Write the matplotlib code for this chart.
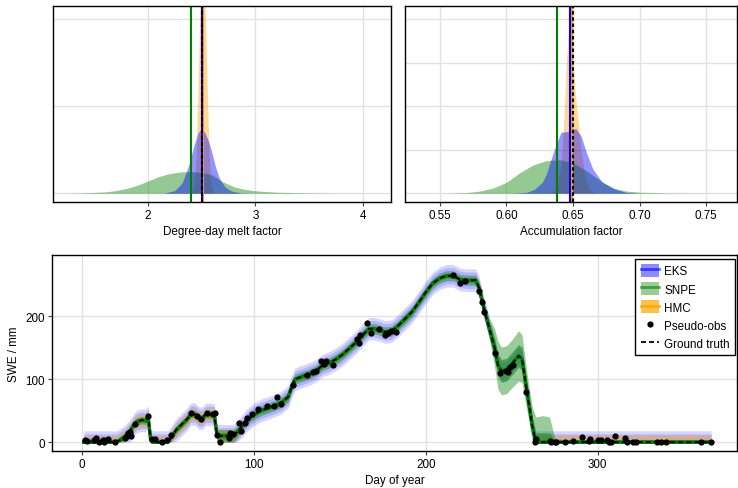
import numpy as np
import matplotlib
matplotlib.use("Agg")
import matplotlib.pyplot as plt
from matplotlib.patches import Patch
from matplotlib.lines import Line2D

plt.rcParams['font.family'] = ['Liberation Sans', 'DejaVu Sans']
plt.rcParams['font.size'] = 8.4
plt.rcParams['lines.scale_dashes'] = False

BLUE = (0.0, 0.0, 1.0)
GREEN = (0.0, 0.5, 0.0)
ORANGE = (1.0, 0.647, 0.0)
GRID = '#e2e2e2'
FS = 8.4

# --- posterior densities, degree-day melt factor
ddf_x_snpe = [1.20, 1.40, 1.60, 1.70, 1.80, 1.90, 2.00, 2.10, 2.20, 2.30, 2.40,
              2.50, 2.60, 2.70, 2.80, 2.90, 3.00, 3.20, 3.50, 3.80, 4.10]
ddf_y_snpe = [0.0, 0.004, 0.015, 0.03, 0.055, 0.09, 0.14, 0.19, 0.225, 0.245, 0.25,
              0.24, 0.21, 0.13, 0.075, 0.045, 0.028, 0.012, 0.004, 0.001, 0.0]
ddf_x_eks = [2.15, 2.25, 2.32, 2.38, 2.43, 2.47, 2.50, 2.53, 2.57, 2.60, 2.63,
             2.67, 2.72, 2.78, 2.88]
ddf_y_eks = [0.0, 0.03, 0.12, 0.32, 0.55, 0.70, 0.74, 0.70, 0.58, 0.45, 0.30,
             0.16, 0.07, 0.025, 0.0]
ddf_x_hmc = [2.40, 2.43, 2.45, 2.47, 2.49, 2.51, 2.53, 2.55, 2.57, 2.59, 2.62]
ddf_y_hmc = [0.0, 0.08, 0.45, 1.35, 2.35, 2.70, 2.35, 1.35, 0.45, 0.08, 0.0]
ddf_mean = {'SNPE': 2.40, 'HMC': 2.51, 'EKS': 2.50}
ddf_true = 2.50

# --- posterior densities, accumulation factor
acc_x_snpe = [0.555, 0.570, 0.580, 0.590, 0.600, 0.610, 0.620, 0.630, 0.640, 0.650,
              0.660, 0.670, 0.680, 0.690, 0.700, 0.720, 0.760]
acc_y_snpe = [0.0, 0.015, 0.05, 0.12, 0.25, 0.47, 0.65, 0.75, 0.77, 0.70,
              0.52, 0.30, 0.12, 0.05, 0.025, 0.008, 0.0]
acc_x_eks = [0.605, 0.615, 0.621, 0.627, 0.630, 0.636, 0.641, 0.646, 0.652, 0.656,
             0.660, 0.665, 0.672, 0.682, 0.690, 0.700]
acc_y_eks = [0.0, 0.02, 0.09, 0.25, 0.44, 1.01, 1.40, 1.42, 1.49, 1.32,
             0.94, 0.55, 0.25, 0.09, 0.02, 0.0]
acc_x_hmc = [0.632, 0.637, 0.641, 0.643, 0.645, 0.6465, 0.648, 0.650, 0.652, 0.654,
             0.656, 0.659, 0.662, 0.666]
acc_y_hmc = [0.0, 0.1, 0.6, 1.6, 3.0, 3.66, 3.45, 2.9, 2.2, 1.6,
             1.0, 0.4, 0.1, 0.0]
acc_mean = {'SNPE': 0.638, 'HMC': 0.649, 'EKS': 0.648}
acc_true = 0.650

# --- SWE time series
days = [1, 20, 22, 25, 28, 30, 32, 35, 37, 38.5,
        40, 41, 50, 52, 55, 58, 61, 63.5, 66, 68,
        70, 72, 75, 77, 78.5, 80, 88, 90, 93, 96,
        100, 104, 108, 112, 116, 120, 122, 124, 128, 132,
        136, 140, 144, 148, 152, 156, 160, 164, 167, 170,
        173, 176, 180, 184, 188, 192, 196, 200, 204, 208,
        212, 216, 220, 224, 229, 231, 234, 237, 240, 242,
        244, 247, 250, 254, 256, 258, 260, 262, 264, 268,
        272, 275, 280, 366]
swe_true = [0, 0, 3, 9, 18, 27, 33, 35, 34, 40,
            3, 0, 0, 8, 20, 28, 36, 45, 44, 38,
            38, 44, 44, 43, 12, 10, 10, 15, 25, 35,
            44, 50, 54, 58, 63, 72, 88, 100, 104, 108,
            113, 122, 126, 132, 140, 150, 160, 172, 180, 180,
            178, 175, 176, 185, 196, 207, 222, 238, 252, 260,
            264, 264, 258, 257, 257, 245, 210, 180, 150, 122,
            113, 115, 124, 137, 132, 95, 60, 25, 0, 0,
            0, 0, 0, 0]
# half-widths of the credible bands (outer / inner)
eks_outer, eks_inner = 18, 13
snpe_outer = [5, 5, 6, 6, 6, 6, 6, 6, 6, 6,
              6, 5, 5, 6, 6, 6, 6, 6, 6, 6,
              6, 6, 6, 6, 8, 10, 10, 9, 8, 8,
              8, 8, 8, 8, 8, 8, 8, 8, 8, 8,
              8, 8, 8, 8, 8, 8, 8, 8, 8, 8,
              8, 8, 8, 8, 8, 8, 8, 8, 8, 8,
              8, 8, 8, 8, 8, 10, 12, 16, 30, 38,
              38, 38, 38, 40, 38, 32, 28, 30, 40, 42,
              40, 6, 4, 4]
snpe_inner = [2.5, 2.5, 3, 3, 3, 3, 3, 3, 3, 3,
              3, 2.5, 2.5, 3, 3, 3, 3, 3, 3, 3,
              3, 3, 3, 3, 4, 5, 5, 4.5, 4, 4,
              4, 4, 4, 4, 4, 4, 4, 4, 4, 4,
              4, 4, 4, 4, 4, 4, 4, 4, 4, 4,
              4, 4, 4, 4, 4, 4, 4, 4, 4, 4,
              4, 4, 4, 4, 4, 5, 6, 8, 15, 18,
              18, 18, 18, 18, 18, 15, 12, 12, 15, 15,
              15, 3, 2, 2]
hmc_outer = [10, 10, 10, 10, 10, 10, 10, 10, 10, 10,
             10, 10, 10, 10, 10, 10, 10, 10, 10, 10,
             10, 10, 10, 10, 10, 10, 10, 8, 6, 4,
             4, 4, 4, 4, 4, 4, 4, 4, 4, 4,
             4, 4, 4, 4, 4, 4, 4, 4, 4, 4,
             4, 4, 4, 4, 4, 4, 4, 4, 4, 4,
             4, 4, 4, 4, 4, 4, 4, 4, 4, 4,
             4, 4, 4, 4, 4, 4, 4, 4, 11, 11,
             11, 11, 11, 11]

obs_day = [2, 3, 7, 8, 10, 12, 13, 14, 15, 19,
           25, 26, 27, 28, 28.5, 31, 38.5,
           40.5, 42.4, 46.6, 49.4, 52,
           63.3, 67, 69.2, 72.9, 76.4, 77.3, 78.5, 80.4,
           85.6, 86.4, 88, 91.5, 92.3, 95, 96, 99, 102.5, 107.5, 111.5, 113.5, 116,
           122.9, 131, 134.5, 136.4, 139.3, 140.7, 141.9, 146,
           159.7, 161, 162, 166, 168.4, 173, 176, 178, 179.5, 182.4,
           215.9, 219.8, 223, 230.9, 232.9, 233.9, 240.5, 243, 246.9, 248, 249.2, 251,
           258.5, 264.3, 263.5,
           272, 273, 275, 276, 281, 285.6, 290.9, 294.7, 295.7, 300.2, 302, 305.4, 306.5,
           308, 309.9, 315.7, 316.8, 320.5, 322, 334.5, 337, 339.6, 359.9, 365.7]
obs_swe = [4, 2, 3, 7, 1, 4, 0, 3, 5, 0,
           7, 10, 14, 16, 9, 29, 42,
           5, 5, 0, 4, 11,
           47, 42, 36, 46, 44, 46, 11, 0,
           7, 14, 13, 30, 18, 30, 39, 45, 53, 58, 57, 72, 61,
           91, 107, 111, 113, 129, 124, 128, 122,
           164, 157, 170, 189, 174, 180, 170, 174, 177, 175,
           266, 252, 255, 240, 223, 207, 142, 110, 113, 111, 120, 122,
           79, 5, 0,
           2, 0, 0, 1, 0, 2, 8, 2, 5, 3, 3, 4, 0,
           0, 9, 7, 1, 1, 1, 0, 1, 0, 0, 0]

fig = plt.figure(figsize=(7.38, 4.89), dpi=100)
ax1 = fig.add_axes([0.0718, 0.5849, 0.4580, 0.4008])
ax2 = fig.add_axes([0.5488, 0.5849, 0.4498, 0.4008])
ax3 = fig.add_axes([0.0705, 0.0757, 0.9281, 0.4008])


def style(ax):
    ax.grid(True, color=GRID, lw=1)
    ax.set_axisbelow(True)
    for s in ax.spines.values():
        s.set_color('black')
        s.set_linewidth(1)
    ax.tick_params(length=3, width=0.8, color='#444444', labelsize=FS, pad=2)


def density_panel(ax, xs, ys, means, truth, xlabel):
    # draw order: HMC, SNPE, EKS
    for key, col in [('HMC', ORANGE), ('SNPE', GREEN), ('EKS', BLUE)]:
        ax.fill_between(xs[key], ys[key], 0, color=col, alpha=0.42, lw=0)
    for key, col in [('SNPE', GREEN), ('HMC', ORANGE), ('EKS', BLUE)]:
        ax.axvline(means[key], color=col, lw=1.5)
    ax.axvline(truth, color='black', lw=1.5, ls=(0, (2.5, 2)))
    ax.set_xlabel(xlabel, fontsize=FS, labelpad=3)
    ax.tick_params(axis='y', left=False, labelleft=False)
    style(ax)


density_panel(ax1,
              {'SNPE': ddf_x_snpe, 'EKS': ddf_x_eks, 'HMC': ddf_x_hmc},
              {'SNPE': ddf_y_snpe, 'EKS': ddf_y_eks, 'HMC': ddf_y_hmc},
              ddf_mean, ddf_true, 'Degree-day melt factor')
ax1.set_xlim(1.12, 4.26)
ax1.set_ylim(-0.1, 2.15)
ax1.set_xticks([2, 3, 4])
ax1.set_yticks([0, 1, 2])

density_panel(ax2,
              {'SNPE': acc_x_snpe, 'EKS': acc_x_eks, 'HMC': acc_x_hmc},
              {'SNPE': acc_y_snpe, 'EKS': acc_y_eks, 'HMC': acc_y_hmc},
              acc_mean, acc_true, 'Accumulation factor')
ax2.set_xlim(0.524, 0.773)
ax2.set_ylim(-0.2, 4.3)
ax2.set_xticks([0.55, 0.60, 0.65, 0.70, 0.75])
ax2.set_xticklabels(['0.55', '0.60', '0.65', '0.70', '0.75'])
ax2.set_yticks([0, 1, 2, 3, 4])

# --- SWE panel
d = np.array(days)
t = np.array(swe_true, dtype=float)


def band(ax, hw, col, alpha):
    hw = np.asarray(hw, dtype=float)
    ax.fill_between(d, np.clip(t - hw, 0, None), t + hw, color=col, alpha=alpha, lw=0)


band(ax3, eks_outer, BLUE, 0.16)
band(ax3, eks_inner, BLUE, 0.16)
band(ax3, hmc_outer, ORANGE, 0.38)
band(ax3, np.asarray(hmc_outer) / 2, ORANGE, 0.3)
band(ax3, snpe_outer, GREEN, 0.4)
band(ax3, snpe_inner, GREEN, 0.4)
ax3.plot(d, t, color=ORANGE, lw=2)
ax3.plot(d, t, color=BLUE, lw=2)
ax3.plot(d, t, color=GREEN, lw=2.5)
ax3.plot(d, t, color='black', lw=1.3, ls=(0, (3.6, 2.2)))
ax3.plot(obs_day, obs_swe, 'o', color='black', ms=4.5, mew=0)

ax3.set_xlim(-17.4, 381)
ax3.set_ylim(-14, 297)
ax3.set_xticks([0, 100, 200, 300])
ax3.set_yticks([0, 100, 200])
ax3.set_xlabel('Day of year', fontsize=FS, labelpad=3)
ax3.set_ylabel('SWE / mm', fontsize=FS, labelpad=4)
style(ax3)

handles = [
    (Patch(facecolor=BLUE, alpha=0.45, lw=0), Line2D([], [], color=BLUE, lw=2, alpha=0.6)),
    (Patch(facecolor=GREEN, alpha=0.4, lw=0), Line2D([], [], color=GREEN, lw=2, alpha=0.6)),
    (Patch(facecolor=ORANGE, alpha=0.7, lw=0), Line2D([], [], color=ORANGE, lw=2, alpha=0.8)),
    Line2D([], [], marker='o', ls='none', color='black', ms=4.5, mew=0),
    Line2D([], [], color='black', lw=1.3, ls=(0, (3.6, 2.2))),
]
labels = ['EKS', 'SNPE', 'HMC', 'Pseudo-obs', 'Ground truth']
leg = ax3.legend(handles, labels, loc='upper right', bbox_to_anchor=(0.997, 0.98),
                 borderaxespad=0, fancybox=False, framealpha=1, edgecolor='black',
                 fontsize=FS, handlelength=1.6, handleheight=1.3, handletextpad=0.4,
                 labelspacing=0.42, borderpad=0.45)
leg.get_frame().set_linewidth(1)

fig.savefig('out.png', dpi=100)
